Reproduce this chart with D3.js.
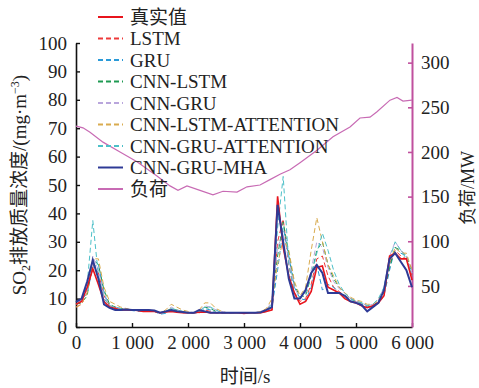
<!DOCTYPE html>
<html><head><meta charset="utf-8">
<script src="https://cdn.jsdelivr.net/npm/d3@7"></script>
<style>
html,body{margin:0;padding:0;background:#fff;}
svg{display:block;}
text{font-family:"Liberation Serif","Times New Roman","Noto Sans CJK SC",serif;fill:#222;}
</style></head><body>
<svg id="chart" width="479" height="388"></svg>
<script>
// time axis (s), one sample every 100 s
const times = d3.range(0, 6001, 100);

const trueVals = [8,9,14,20.5,15,9,7,6.5,6,6,6,5.8,5.5,5.5,5.5,5,5.3,5.5,5.2,5,5,5,5.2,5.3,5,5,5,5,5,5,4.8,5,5,5,5.5,6,46,28,18,12,8,9,12.5,21,21.5,14,13,12,10,9,8.5,7.5,6.8,7.5,8.5,11,25,26,24,24,16.5];
const lstmVals = [7,8,12,22,19,11,7.5,7,6.5,6,6,6,5.5,5.5,5.5,5,5,6,5.5,5,5,5,5,6,5.5,5,5,5,5,5,5,5,5,5,5.5,6,30,38,22,12,9,10,15,24,25,18,14,12.5,11,10,9,8,7,7.5,9,12,22,27,25,24,18];
const gruVals = [9,9.5,12,21,22,12,7,6.5,6,6,5.8,5.5,5.5,5.5,5.5,4.5,4.8,6,5.8,5.2,5,4.8,5,6.5,6,5,5,4.8,4.8,5,5,4.8,5,5,5.5,7,20,35,25,14,10,9.5,14,22,13,15,14,12,11,9.5,8.5,8,7,7,8.5,11,20,28,26,25,19];
const cnnLstmVals = [8,8.5,11,24,22,13,8,7,6.5,6,6,6,6,5.5,5.5,5,5.5,6.5,6,5.5,5,5,5.5,7,6.5,5.5,5,5,5,5,5,5,5,5,6,8,25,37,26,15,10.5,11,18,27,30,22,17,14,12,10,9,8.5,7.5,7.5,9,12,21,28,27,25,20];
const cnnGruVals = [9,9,13,25,20,11,7.5,7,6.5,6.5,6,6,6,6,5.5,5,5.5,7,6,5.5,5,5,5.5,7.5,7,6,5.5,5,5,5,5,5,5,5.5,6,9,28,33,24,14,10,12,20,30,28,21,16,13.5,12,10,9,8.5,7.5,8,9.5,14,25,30,27,25,19];
const cnnLstmAttVals = [7,8,12,24,24,14,9,8,7,6.5,6,6,6,5.5,5.5,5,6,8,7,6,5.5,5,6,8.5,8.5,6.5,5.5,5,5,5,5,5,5,5.5,6.5,10,22,31,27,16,11,14,27,38.5,30,22,18,14,12,10.5,9.5,9,8,8,9.5,13,23,28,26,26,20];
const cnnGruAttVals = [8,9,15,37.5,18,10,7.5,7,6.5,6,6,6,5.5,5.5,5.5,5,5,6.5,6,5.5,5,5,5.5,7,7,6,5,5,5,5,5,5,5,5,6,8,35,53,22,12,10,12,18,26,33,27,20,15,12,10,9,8.5,7.5,8,10,14,24,30,27,24,18];
const mhaVals = [8.8,10,16,23.5,17,8,6.7,6,6,6.2,6,6,6,6,5.8,5,5.5,6,5.5,5.3,5,5,6,5.5,5,5,5,5,5,5,5,5,5,5.2,6,7,43,30,17,10,10,13,19,21.8,19,12,12,12,11,9,8.5,7.7,5.5,7,8.5,13,24,26,23,20,14];

// load (MW) read at irregular times
const loadTimes = [0,125,250,482,786,1089,1446,1679,1821,1982,2214,2446,2625,2875,3054,3286,3464,3643,3821,4000,4304,4589,4893,5071,5250,5375,5607,5732,5839,6000];
const loadVals  = [229,227,222,211,200,189,173,162,157,162,157,152,156,155,161,163,169,175,180,188,202,217,228,238,239,245,258,261,257,258];

const seriesNames = ["真实值","LSTM","GRU","CNN-LSTM","CNN-GRU","CNN-LSTM-ATTENTION","CNN-GRU-ATTENTION","CNN-GRU-MHA","负荷"];
const seriesColors = ["#e8141c","#ee3a3a","#2a9ad8","#1f9a52","#b9a6dc","#d9ab4f","#4cc0c8","#2e3a96","#c86bb4"];
const seriesDash = [null,"5,3","5,3","5,3","5,3","5,3","5,3",null,null];

const xTicks = [0,1000,2000,3000,4000,5000,6000];
const yLeftTicks = [0,10,20,30,40,50,60,70,80,90,100];
const yRightTicks = [50,100,150,200,250,300];

const svg = d3.select("#chart");
const X0 = 76, X1 = 412, Y0 = 327, Y1 = 43;

const x = d3.scaleLinear().domain([0,6000]).range([X0,X1]);
const y = d3.scaleLinear().domain([0,100]).range([Y0,Y1]);
const yR = d3.scaleLinear().domain([4,322]).range([Y0,Y1]);

const fmt = v => d3.format(",")(v).replace(/,/g, " ");

// axes
const gx = svg.append("g").attr("transform",`translate(0,${Y0})`)
  .call(d3.axisBottom(x).tickValues(xTicks).tickFormat(fmt).tickSizeInner(-4).tickSizeOuter(0).tickPadding(9));
const gy = svg.append("g").attr("transform",`translate(${X0},0)`)
  .call(d3.axisLeft(y).tickValues(yLeftTicks).tickSizeInner(-4).tickSizeOuter(0).tickPadding(9));
const gr = svg.append("g").attr("transform",`translate(${X1},0)`)
  .call(d3.axisRight(yR).tickValues(yRightTicks).tickSizeInner(-4).tickSizeOuter(0).tickPadding(9));

[gx,gy].forEach(g=>{
  g.selectAll(".domain").attr("stroke","#111").attr("stroke-width",1.6);
  g.selectAll(".tick line").attr("stroke","#111").attr("stroke-width",1.4);
});
gr.selectAll(".domain").attr("stroke","#c0509e").attr("stroke-width",2);
gr.selectAll(".tick line").attr("stroke","#c0509e").attr("stroke-width",1.6);
[gx,gy,gr].forEach(g=>{
  g.selectAll(".tick text").attr("font-size",19).attr("fill","#222")
   .attr("font-family",'"Liberation Serif","Times New Roman",serif');
});

// lines
const line = d3.line().x((d,i)=>x(times[i])).y(d=>y(d));
const dataSeries = [trueVals,lstmVals,gruVals,cnnLstmVals,cnnGruVals,cnnLstmAttVals,cnnGruAttVals,mhaVals];
const drawOrder = [1,2,3,4,5,6,0,7];
drawOrder.forEach(k=>{
  svg.append("path").datum(dataSeries[k])
    .attr("d",line).attr("fill","none")
    .attr("stroke",seriesColors[k])
    .attr("stroke-width", seriesDash[k] ? 1 : (k===7?2:1.6))
    .attr("stroke-dasharray", seriesDash[k]);
});

const loadLine = d3.line().x((d,i)=>x(loadTimes[i])).y(d=>yR(d));
svg.append("path").datum(loadVals).attr("d",loadLine).attr("fill","none")
  .attr("stroke",seriesColors[8]).attr("stroke-width",1.2);

// legend
const leg = svg.append("g");
seriesNames.forEach((n,i)=>{
  const cy = 17 + i*21.5;
  leg.append("line").attr("x1",98).attr("x2",123).attr("y1",cy).attr("y2",cy)
    .attr("stroke",seriesColors[i]).attr("stroke-width",2)
    .attr("stroke-dasharray", seriesDash[i]);
  leg.append("text").attr("x",130).attr("y",cy+6.5).attr("font-size",19).text(n);
});

// axis titles
const yt = svg.append("text").attr("transform","translate(26,185) rotate(-90)")
  .attr("text-anchor","middle").attr("font-size",19);
yt.append("tspan").text("SO");
yt.append("tspan").attr("font-size",12).attr("dy",4).text("2");
yt.append("tspan").attr("dy",-4).text("排放质量浓度/(mg·m");
yt.append("tspan").attr("font-size",12).attr("dy",-7).text("−3");
yt.append("tspan").attr("dy",7).text(")");

svg.append("text").attr("transform","translate(474,188) rotate(-90)")
  .attr("text-anchor","middle").attr("font-size",18).text("负荷/MW");

svg.append("text").attr("x",245).attr("y",383).attr("text-anchor","middle")
  .attr("font-size",19).text("时间/s");
</script>
</body></html>
